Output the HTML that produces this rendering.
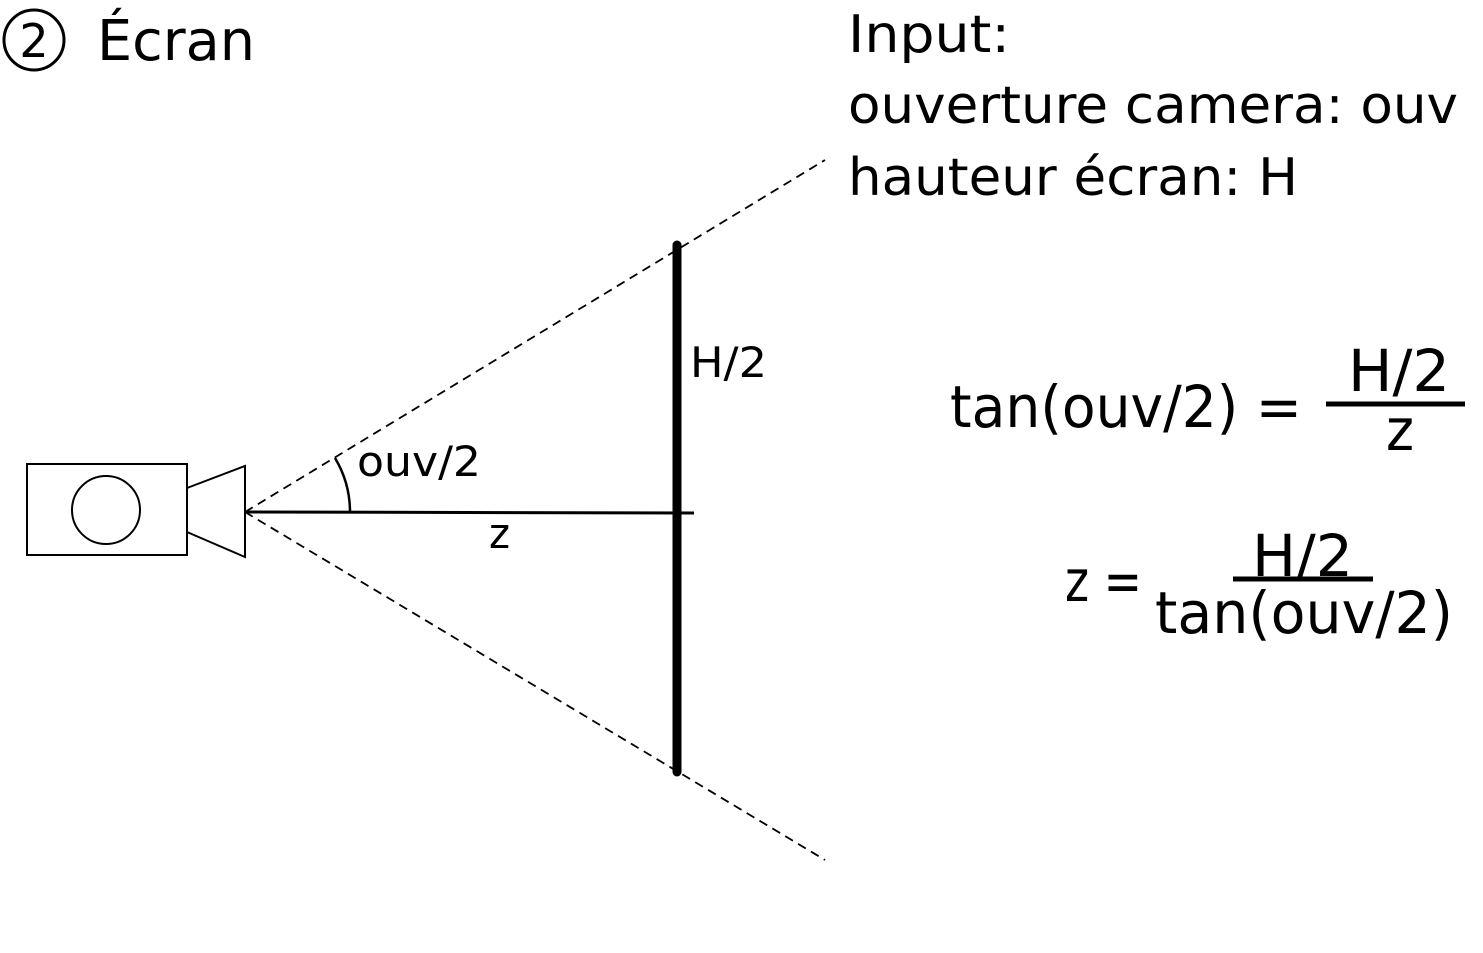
<!DOCTYPE html>
<html><head><meta charset="utf-8"><style>
html,body{margin:0;padding:0;background:#fff;width:1483px;height:953px;overflow:hidden}
text{font-family:"DejaVu Sans","Liberation Sans",sans-serif;fill:#000}
</style></head><body>
<svg width="1483" height="953" viewBox="0 0 1483 953" xmlns="http://www.w3.org/2000/svg">
<circle cx="34" cy="40" r="30" fill="none" stroke="#000" stroke-width="3"/>
<text x="34" y="57" font-size="46" text-anchor="middle">2</text>
<text x="97" y="60" font-size="56" textLength="158" lengthAdjust="spacingAndGlyphs">Écran</text>
<text x="848" y="52" font-size="52" textLength="162" lengthAdjust="spacingAndGlyphs">Input:</text>
<text x="848" y="123" font-size="52" textLength="610" lengthAdjust="spacingAndGlyphs">ouverture camera: ouv</text>
<text x="848" y="195" font-size="52" textLength="450" lengthAdjust="spacingAndGlyphs">hauteur écran: H</text>
<rect x="27" y="464" width="160" height="91" fill="none" stroke="#000" stroke-width="2"/>
<circle cx="106" cy="510" r="34" fill="none" stroke="#000" stroke-width="2"/>
<polygon points="187,488 245,466 245,557 187,532" fill="none" stroke="#000" stroke-width="2"/>
<line x1="245" y1="512" x2="825" y2="160" stroke="#000" stroke-width="1.8" stroke-dasharray="9,6"/>
<line x1="245" y1="512" x2="825" y2="860" stroke="#000" stroke-width="1.8" stroke-dasharray="9,6"/>
<line x1="245" y1="512" x2="694" y2="513" stroke="#000" stroke-width="3"/>
<path d="M335,458 A105,105 0 0 1 350,512" fill="none" stroke="#000" stroke-width="2.5"/>
<line x1="677" y1="245" x2="677" y2="772" stroke="#000" stroke-width="9" stroke-linecap="round"/>
<text x="690" y="377" font-size="42" textLength="77" lengthAdjust="spacingAndGlyphs">H/2</text>
<text x="357" y="476" font-size="42" textLength="124" lengthAdjust="spacingAndGlyphs">ouv/2</text>
<text x="489" y="548" font-size="42" textLength="21" lengthAdjust="spacingAndGlyphs">z</text>
<text x="950" y="427" font-size="58" textLength="352" lengthAdjust="spacingAndGlyphs">tan(ouv/2) =</text>
<line x1="1326" y1="404" x2="1465" y2="404" stroke="#000" stroke-width="5"/>
<text x="1348" y="391" font-size="58" textLength="102" lengthAdjust="spacingAndGlyphs">H/2</text>
<text x="1386" y="450" font-size="58" textLength="28" lengthAdjust="spacingAndGlyphs">z</text>
<text x="1065" y="601" font-size="58" textLength="77" lengthAdjust="spacingAndGlyphs">z =</text>
<line x1="1233" y1="579" x2="1373" y2="579" stroke="#000" stroke-width="5"/>
<text x="1252" y="576" font-size="58" textLength="101" lengthAdjust="spacingAndGlyphs">H/2</text>
<text x="1155" y="633" font-size="58" textLength="298" lengthAdjust="spacingAndGlyphs">tan(ouv/2)</text>
</svg>
</body></html>
